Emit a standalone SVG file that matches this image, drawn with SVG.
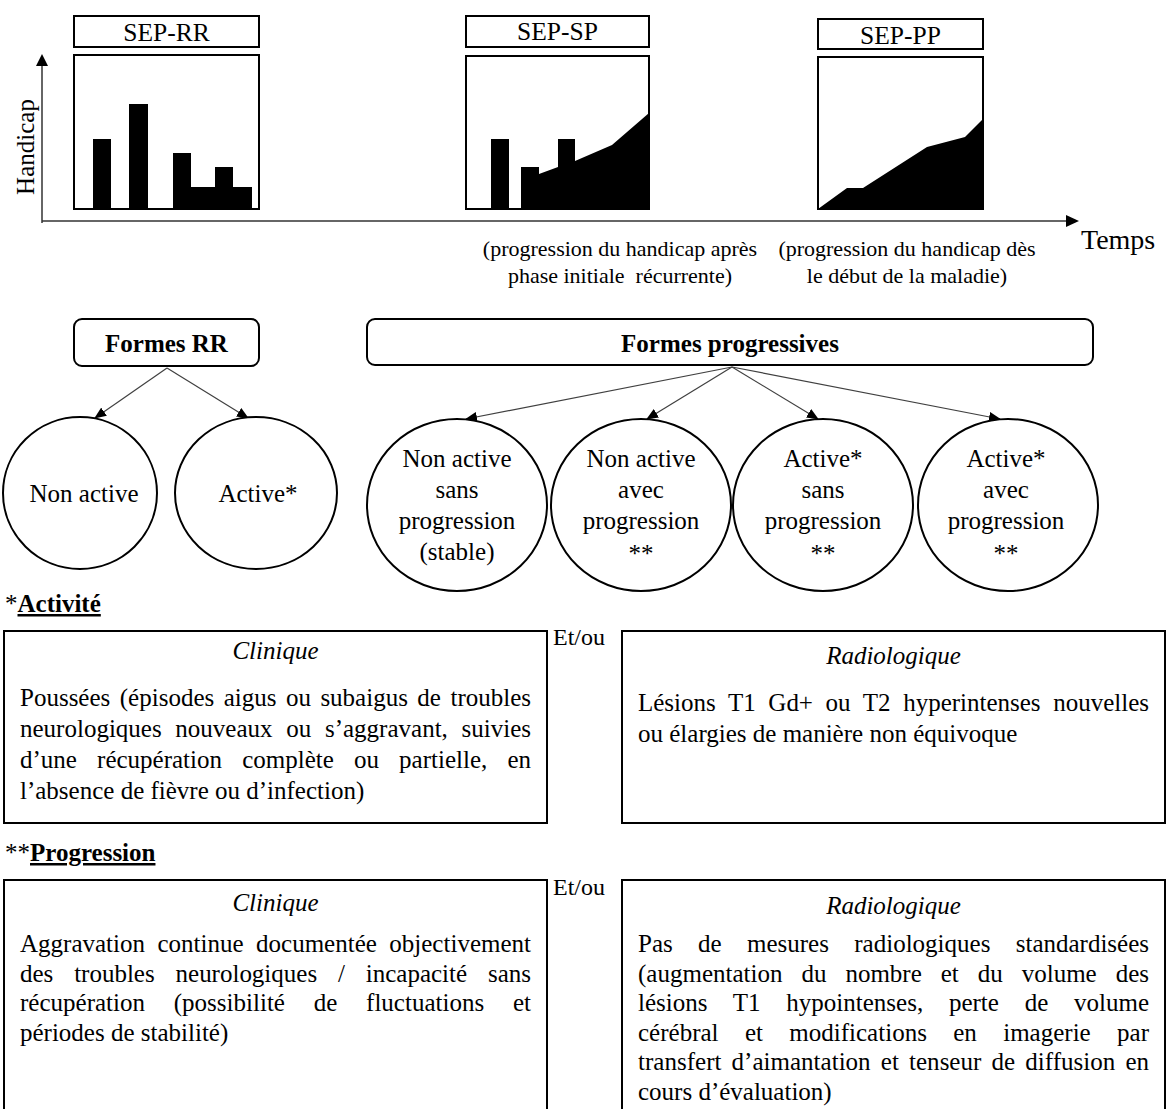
<svg xmlns="http://www.w3.org/2000/svg" width="1169" height="1109" viewBox="0 0 1169 1109">
<style>
text { font-family: "Liberation Serif", "Times New Roman", serif; fill: #000; }
.lbl { font-size: 25.5px; text-anchor: middle; }
.box { fill: #fff; stroke: #000; stroke-width: 2; }
.rbox { fill: #fff; stroke: #000; stroke-width: 2; }
.circ { fill: #fff; stroke: #000; stroke-width: 2; }
.ct { font-size: 25px; text-anchor: middle; }
.cap { font-size: 22px; text-anchor: middle; }
.bt { font-size: 25px; font-weight: bold; text-anchor: middle; }
.body { font-size: 25px; }
.hdr { font-size: 25px; font-style: italic; text-anchor: middle; }
.etou { font-size: 24px; }
.sec { font-size: 25px; }
.conn { stroke: #404040; stroke-width: 1.2; fill: none; marker-end: url(#ah); }
.axis { stroke: #333; stroke-width: 1.5; fill: none; }
</style>
<defs>
<marker id="ah" markerWidth="12" markerHeight="10" refX="11" refY="5" orient="auto" markerUnits="userSpaceOnUse">
<path d="M0,0 L12,5 L0,10 z" fill="#000"/>
</marker>
</defs>
<rect width="1169" height="1109" fill="#fff"/>

<g id="axes">
<line class="axis" x1="42" y1="223" x2="42" y2="64"/>
<polygon points="36,66 42,54 48,66" fill="#000"/>
<line class="axis" x1="42" y1="221" x2="1068" y2="221"/>
<polygon points="1066,215 1079,221 1066,227" fill="#000"/>
<text font-size="25" text-anchor="middle" transform="translate(34,147) rotate(-90)">Handicap</text>
<text font-size="28" x="1081" y="249">Temps</text>
</g>

<g id="chart-rr">
<rect class="box" x="74" y="16" width="185" height="31"/>
<text class="lbl" x="166.5" y="41">SEP-RR</text>
<rect class="box" x="74" y="55" width="185" height="154"/>
<rect x="93" y="139" width="18" height="70" fill="#000"/>
<rect x="129" y="104" width="19" height="105" fill="#000"/>
<polygon points="173,209 173,153 191,153 191,187 215,187 215,167 233,167 233,187 252,187 252,209" fill="#000"/>
</g>

<g id="chart-sp">
<rect class="box" x="466" y="16" width="183" height="31"/>
<text class="lbl" x="557.5" y="40">SEP-SP</text>
<rect class="box" x="466" y="56" width="183" height="153"/>
<rect x="491" y="139" width="18" height="70" fill="#000"/>
<polygon points="521,209 521,167 539,167 539,174 558,167 558,139 575,139 575,161 612,145 649,113 649,209" fill="#000"/>
<text class="cap" x="620" y="256">(progression du handicap après</text>
<text class="cap" x="620" y="283" xml:space="preserve">phase initiale  récurrente)</text>
</g>

<g id="chart-pp">
<rect class="box" x="818" y="19" width="165" height="30"/>
<text class="lbl" x="900.5" y="44">SEP-PP</text>
<rect class="box" x="818" y="57" width="165" height="152"/>
<polygon points="818,209 847,188 863,188 927,147 965,137 983,119 983,209" fill="#000"/>
<text class="cap" x="907" y="256">(progression du handicap dès</text>
<text class="cap" x="907" y="283">le début de la maladie)</text>
</g>

<g id="connectors">
<line class="conn" x1="167" y1="368" x2="95" y2="418"/>
<line class="conn" x1="167" y1="368" x2="248" y2="418"/>
<line class="conn" x1="732" y1="367" x2="466" y2="419"/>
<line class="conn" x1="732" y1="367" x2="647" y2="419"/>
<line class="conn" x1="732" y1="367" x2="818" y2="419"/>
<line class="conn" x1="732" y1="367" x2="1000" y2="419"/>
</g>

<g id="formes-rr">
<rect class="rbox" x="74" y="319" width="185" height="47" rx="8"/>
<text class="bt" x="166.5" y="352">Formes RR</text>
</g>
<g id="formes-progressives">
<rect class="rbox" x="367" y="319" width="726" height="46" rx="8"/>
<text class="bt" x="730" y="352">Formes progressives</text>
</g>

<g id="rr-non-active">
<ellipse class="circ" cx="80" cy="493" rx="77" ry="76"/>
<text class="ct" x="84" y="502">Non active</text>
</g>
<g id="rr-active">
<ellipse class="circ" cx="256" cy="493" rx="81" ry="76"/>
<text class="ct" x="258" y="502">Active*</text>
</g>

<g id="p-non-active-sans">
<ellipse class="circ" cx="457" cy="505" rx="90" ry="86"/>
<text class="ct" x="457" y="467">Non active</text>
<text class="ct" x="457" y="498">sans</text>
<text class="ct" x="457" y="529">progression</text>
<text class="ct" x="457" y="560">(stable)</text>
</g>
<g id="p-non-active-avec">
<ellipse class="circ" cx="641" cy="505" rx="90" ry="86"/>
<text class="ct" x="641" y="467">Non active</text>
<text class="ct" x="641" y="498">avec</text>
<text class="ct" x="641" y="529">progression</text>
<text class="ct" x="641" y="562">**</text>
</g>
<g id="p-active-sans">
<ellipse class="circ" cx="823" cy="505" rx="90" ry="86"/>
<text class="ct" x="823" y="467">Active*</text>
<text class="ct" x="823" y="498">sans</text>
<text class="ct" x="823" y="529">progression</text>
<text class="ct" x="823" y="562">**</text>
</g>
<g id="p-active-avec">
<ellipse class="circ" cx="1008" cy="505" rx="90" ry="86"/>
<text class="ct" x="1006" y="467">Active*</text>
<text class="ct" x="1006" y="498">avec</text>
<text class="ct" x="1006" y="529">progression</text>
<text class="ct" x="1006" y="562">**</text>
</g>

<g id="activite">
<text class="sec" x="5" y="612">*<tspan font-weight="bold" text-decoration="underline">Activité</tspan></text>
<g id="activite-clinique">
<rect class="box" x="4" y="631" width="543" height="192"/>
<text class="hdr" x="275.5" y="659">Clinique</text>
<text class="body" x="20" y="706" word-spacing="3.2" textLength="511" lengthAdjust="spacing">Poussées (épisodes aigus ou subaigus de troubles</text>
<text class="body" x="20" y="737" word-spacing="7.4" textLength="511" lengthAdjust="spacing">neurologiques nouveaux ou s’aggravant, suivies</text>
<text class="body" x="20" y="768" word-spacing="13.9" textLength="511" lengthAdjust="spacing">d’une récupération complète ou partielle, en</text>
<text class="body" x="20" y="799">l’absence de fièvre ou d’infection)</text>
</g>
<text class="etou" x="553" y="645">Et/ou</text>
<g id="activite-radiologique">
<rect class="box" x="622" y="631" width="543" height="192"/>
<text class="hdr" x="893.5" y="664">Radiologique</text>
<text class="body" x="638" y="711" word-spacing="6.4" textLength="511" lengthAdjust="spacing">Lésions T1 Gd+ ou T2 hyperintenses nouvelles</text>
<text class="body" x="638" y="742">ou élargies de manière non équivoque</text>
</g>
</g>

<g id="progression">
<text class="sec" x="5" y="861">**<tspan font-weight="bold" text-decoration="underline">Progression</tspan></text>
<g id="progression-clinique">
<rect class="box" x="4" y="880" width="543" height="240"/>
<text class="hdr" x="275.5" y="911">Clinique</text>
<text class="body" x="20" y="952" word-spacing="6.2" textLength="511" lengthAdjust="spacing">Aggravation continue documentée objectivement</text>
<text class="body" x="20" y="981.5" word-spacing="14.6" textLength="511" lengthAdjust="spacing">des troubles neurologiques / incapacité sans</text>
<text class="body" x="20" y="1011" word-spacing="22.5" textLength="511" lengthAdjust="spacing">récupération (possibilité de fluctuations et</text>
<text class="body" x="20" y="1040.5">périodes de stabilité)</text>
</g>
<text class="etou" x="553" y="895">Et/ou</text>
<g id="progression-radiologique">
<rect class="box" x="622" y="880" width="543" height="240"/>
<text class="hdr" x="893.5" y="914">Radiologique</text>
<text class="body" x="638" y="952" word-spacing="19.1" textLength="511" lengthAdjust="spacing">Pas de mesures radiologiques standardisées</text>
<text class="body" x="638" y="981.5" word-spacing="12.7" textLength="511" lengthAdjust="spacing">(augmentation du nombre et du volume des</text>
<text class="body" x="638" y="1011" word-spacing="19.5" textLength="511" lengthAdjust="spacing">lésions T1 hypointenses, perte de volume</text>
<text class="body" x="638" y="1040.5" word-spacing="20.1" textLength="511" lengthAdjust="spacing">cérébral et modifications en imagerie par</text>
<text class="body" x="638" y="1070" word-spacing="3.9" textLength="511" lengthAdjust="spacing">transfert d’aimantation et tenseur de diffusion en</text>
<text class="body" x="638" y="1099.5">cours d’évaluation)</text>
</g>
</g>
</svg>
